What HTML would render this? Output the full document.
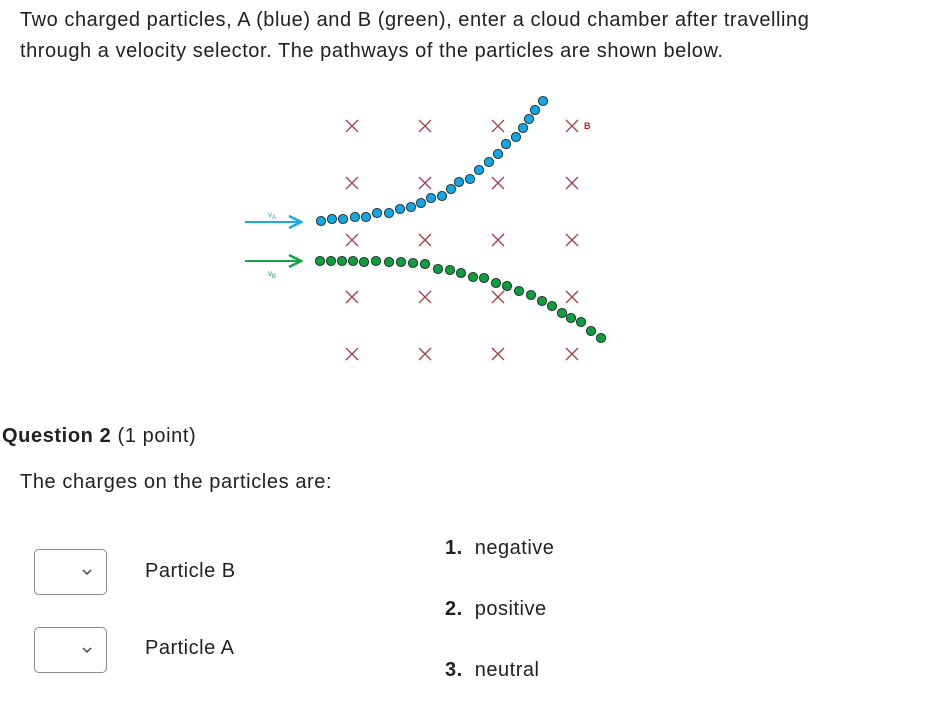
<!DOCTYPE html>
<html><head><meta charset="utf-8"><style>
body{margin:0;width:937px;height:723px;background:#fff;font-family:"Liberation Sans",sans-serif;color:#202122;position:relative;overflow:hidden}
.t{position:absolute;white-space:nowrap;font-size:20px;letter-spacing:0.5px}
.dd{position:absolute;left:34px;width:73px;height:46px;border:1px solid #8a8c8f;border-radius:5px;box-sizing:border-box}
.dd svg{position:absolute;left:47px;top:18px}
</style></head><body>
<div class="t" style="left:20px;top:9px;letter-spacing:0.55px">Two charged particles, A (blue) and B (green), enter a cloud chamber after travelling</div>
<div class="t" style="left:20px;top:40px;letter-spacing:0.55px">through a velocity selector. The pathways of the particles are shown below.</div>
<svg id="chart" width="937" height="400" style="position:absolute;left:0;top:0">
<defs>
<marker id="ab" markerWidth="8" markerHeight="8" refX="7" refY="4" orient="auto"><path d="M1,1 L7,4 L1,7" fill="none" stroke="#1aa9e8" stroke-width="1.3"/></marker>
<marker id="ag" markerWidth="8" markerHeight="8" refX="7" refY="4" orient="auto"><path d="M1,1 L7,4 L1,7" fill="none" stroke="#13a54b" stroke-width="1.3"/></marker>
</defs>
<line x1="245" y1="222" x2="301" y2="222" stroke="#1aa9e8" stroke-width="2" marker-end="url(#ab)"/>
<line x1="245" y1="261" x2="301" y2="261" stroke="#13a54b" stroke-width="2" marker-end="url(#ag)"/>
<text x="268" y="217" font-size="8" fill="#1aa9e8">v<tspan font-size="6" dy="2">A</tspan></text>
<text x="268" y="276" font-size="8" fill="#13a54b">v<tspan font-size="6" dy="2">B</tspan></text>
<text x="584" y="129" font-size="9" font-weight="bold" fill="#d0161b">B</text>
<g id="crosses"></g><g id="blue"></g><g id="green"></g>
</svg>
<script>
const crossX=[352,425,498,572];
const crossY=[126,183,240,297,354];
const blueX=[321,332,343,355,366,377,389,400,411,421,431,442,451,459,470,479,489,498,506,516,523,529,535,543];
const blueY=[221,219,219,217,217,213,213,209,207,203,198,196,189,182,179,170,162,154,144,137,128,119,110,101];
const greenX=[320,331,342,353,364,376,389,401,413,425,438,450,461,473,484,496,507,519,531,542,552,562,571,581,591,601];
const greenY=[261,261,261,261,262,261,262,262,263,264,269,270,273,277,278,283,286,291,295,301,306,313,318,322,331,338];
const NS='http://www.w3.org/2000/svg';
const cg=document.getElementById('crosses');
crossY.forEach(y=>crossX.forEach(x=>{
 const p=document.createElementNS(NS,'path');
 p.setAttribute('d',`M${x-6},${y-6}L${x+6},${y+6}M${x+6},${y-6}L${x-6},${y+6}`);
 p.setAttribute('stroke','#a04048');p.setAttribute('stroke-width','1.3');
 
 
 cg.appendChild(p);
}));
function dots(g,xs,ys,col,name){
 xs.forEach((x,i)=>{
  const c=document.createElementNS(NS,'circle');
  c.setAttribute('cx',x);c.setAttribute('cy',ys[i]);c.setAttribute('r',4.6);
  c.setAttribute('fill',col);c.setAttribute('stroke','#1a2a2a');c.setAttribute('stroke-width','0.9');
  
  
  g.appendChild(c);
 });
}
dots(document.getElementById('blue'),blueX,blueY,'#0fa7e6','particle-a-dot');
dots(document.getElementById('green'),greenX,greenY,'#0d9e3e','particle-b-dot');
</script>
<div class="t" style="left:2px;top:425px;letter-spacing:0.6px"><b>Question 2</b> (1 point)</div>
<div class="t" style="left:20px;top:471px;letter-spacing:0.6px">The charges on the particles are:</div>
<div class="dd" style="top:549px"><svg width="10" height="8"><path d="M1,2 L5,6 L9,2" fill="none" stroke="#444" stroke-width="1.5"/></svg></div>
<div class="dd" style="top:627px"><svg width="10" height="8"><path d="M1,2 L5,6 L9,2" fill="none" stroke="#444" stroke-width="1.5"/></svg></div>
<div class="t" style="left:145px;top:560px">Particle B</div>
<div class="t" style="left:145px;top:637px">Particle A</div>
<div class="t" style="left:445px;top:537px"><b>1.</b>&nbsp;&nbsp;negative</div>
<div class="t" style="left:445px;top:598px"><b>2.</b>&nbsp;&nbsp;positive</div>
<div class="t" style="left:445px;top:659px"><b>3.</b>&nbsp;&nbsp;neutral</div>
</body></html>
